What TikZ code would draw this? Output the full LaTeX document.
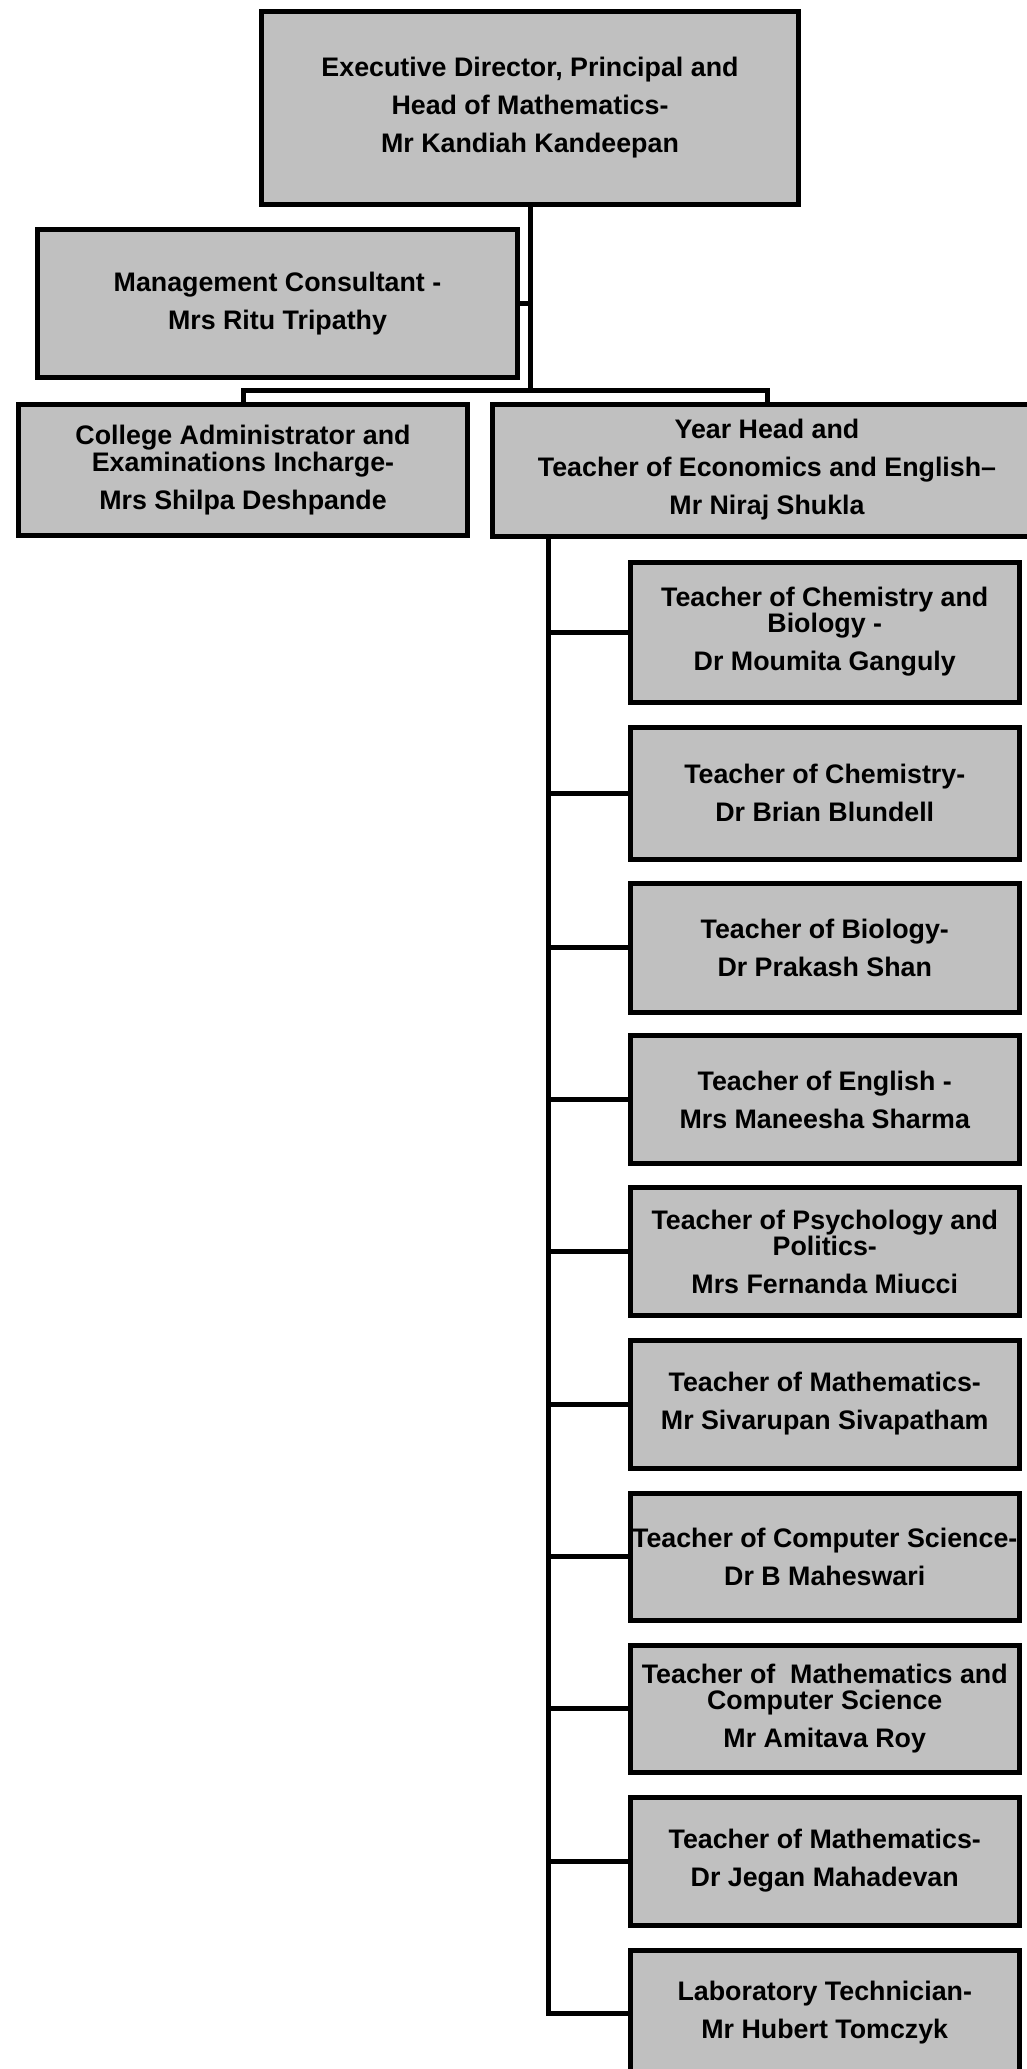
\documentclass[tikz,border=0pt]{standalone}
\usepackage{fontspec}
\setmainfont{Liberation Sans}
\definecolor{boxgray}{HTML}{C0C0C0}
\tikzset{
  orgbox/.style={draw=black, fill=boxgray, line width=5pt, rectangle, inner sep=0pt,
    align=center, font=\fontsize{26.8}{38}\selectfont\bfseries},
  teachbox/.style={orgbox, minimum width=388.5},
  link/.style={draw=black, line width=5pt},
}
\begin{document}
\begin{tikzpicture}[x=1pt,y=-1pt]
\clip (0,0) rectangle (1027,2069);
\fill[white] (0,0) rectangle (1027,2069);

\node[orgbox, minimum width=537.5, minimum height=192.5] (top) at (530,108)
  {Executive Director, Principal and\\Head of Mathematics-\\Mr Kandiah Kandeepan};
\node[orgbox, minimum width=479.5, minimum height=148] (mgmt) at (277.5,303.5)
  {Management Consultant -\\Mrs Ritu Tripathy};
\node[orgbox, minimum width=449, minimum height=131.5] (college) at (243,470)
  {College Administrator and\\[-11pt]Examinations Incharge-\\Mrs Shilpa Deshpande};
\node[orgbox, minimum width=549, minimum height=132] (year) at (767,470)
  {Year Head and\\Teacher of Economics and English–\\Mr Niraj Shukla};

\node[teachbox, minimum height=140] (t1) at (824.75,632)
  {Teacher of Chemistry and\\[-12pt]Biology -\\Dr Moumita Ganguly};
\node[teachbox, minimum height=132] (t2) at (824.75,793)
  {Teacher of Chemistry-\\Dr Brian Blundell};
\node[teachbox, minimum height=129] (t3) at (824.75,947.5)
  {Teacher of Biology-\\Dr Prakash Shan};
\node[teachbox, minimum height=128] (t4) at (824.75,1099.5)
  {Teacher of English -\\Mrs Maneesha Sharma};
\node[teachbox, minimum height=128] (t5) at (824.75,1251.5)
  {Teacher of Psychology and\\[-12pt]Politics-\\Mrs Fernanda Miucci};
\node[teachbox, minimum height=128] (t6) at (824.75,1404)
  {Teacher of Mathematics-\\Mr Sivarupan Sivapatham};
\node[teachbox, minimum height=127] (t7) at (824.75,1556.5)
  {Teacher of Computer Science-\\Dr B Maheswari};
\node[teachbox, minimum height=127] (t8) at (824.75,1708.5)
  {Teacher of\ \ Mathematics and\\[-12pt]Computer Science\\Mr Amitava Roy};
\node[teachbox, minimum height=128] (t9) at (824.75,1861)
  {Teacher of Mathematics-\\Dr Jegan Mahadevan};
\node[teachbox, minimum height=126] (t10) at (824.75,2013)
  {Laboratory Technician-\\Mr Hubert Tomczyk};

\coordinate (bus) at (530,390);
\draw[link] (top.south) -- (bus);
\draw[link] (mgmt.east) -- (mgmt.east -| bus);
\draw[link] (college.north) |- (bus) -| (year.north);

\coordinate (stem) at (548,536.5);
\draw[link] (stem) |- (t10.west);
\foreach \t in {t1,t2,t3,t4,t5,t6,t7,t8,t9}
  \draw[link] (stem |- \t.west) -- (\t.west);
\end{tikzpicture}
\end{document}
